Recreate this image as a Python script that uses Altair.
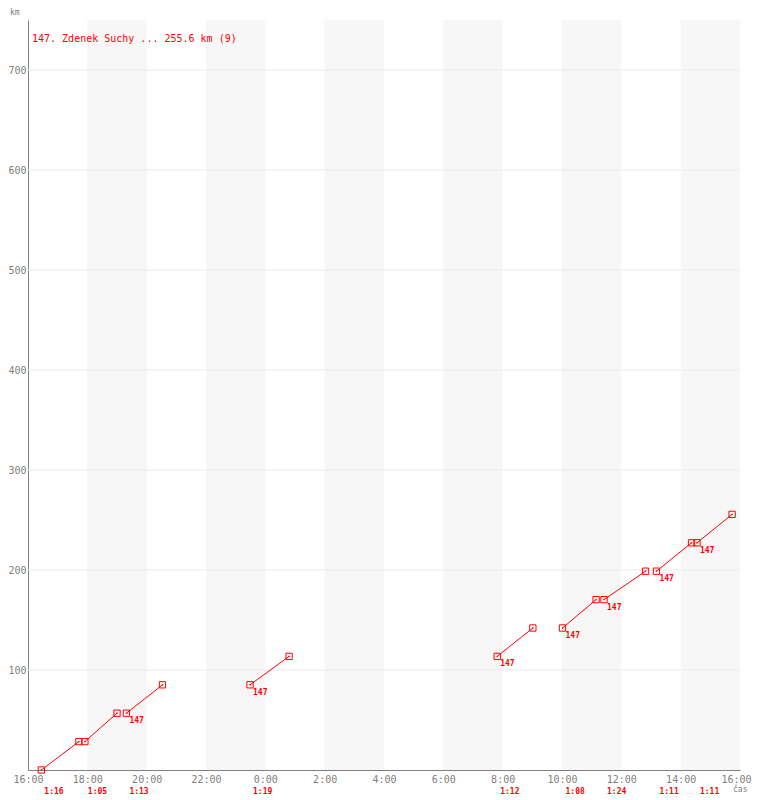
import altair as alt
import pandas as pd

# ---- data ----
start_times = ["16:27", "17:55", "19:19", "23:29", "7:49", "10:01", "11:25", "13:11", "14:33"]
durations = ["1:16", "1:05", "1:13", "1:19", "1:12", "1:08", "1:24", "1:11", "1:11"]
distances = [0, 28.4, 56.8, 85.2, 113.6, 142.0, 170.4, 198.8, 227.2, 255.6]
rider_labels = ["", "", "147", "147", "147", "147", "147", "147", "147"]
band_starts = ["18:00", "22:00", "2:00", "6:00", "10:00", "14:00"]
band_length = "2:00"
x_ticks = list(range(0, 1441, 120))
y_ticks = [100, 200, 300, 400, 500, 600, 700]
legend_text = "147. Zdenek Suchy ... 255.6 km (9)"

RED = "#ff0000"
GRAY = "#808080"
FONT = "DejaVu Sans Mono"


def hm(s):
    h, m = s.split(":")
    return int(h) * 60 + int(m)


def since16(s):
    t = hm(s) - 16 * 60
    return t + 1440 if t < 0 else t


rows, pts, labels = [], [], []
for i, (st, du) in enumerate(zip(start_times, durations)):
    t0 = since16(st)
    t1 = t0 + hm(du)
    rows.append({"seg": i, "t": t0, "km": distances[i]})
    rows.append({"seg": i, "t": t1, "km": distances[i + 1]})
    pts.append({"t": t0, "km": distances[i]})
    pts.append({"t": t1, "km": distances[i + 1]})
    labels.append({"t": t0, "km": distances[i], "rider": rider_labels[i], "dur": du})

lines_df = pd.DataFrame(rows)
pts_df = pd.DataFrame(pts)
lab_df = pd.DataFrame(labels)
bands_df = pd.DataFrame(
    [{"b0": since16(b), "b1": since16(b) + hm(band_length)} for b in band_starts]
)

xscale = alt.Scale(domain=[0, 1440], nice=False, zero=False)
yscale = alt.Scale(domain=[0, 750], nice=False)

bands = alt.Chart(bands_df).mark_rect(color="#f7f7f7").encode(
    x=alt.X("b0:Q", scale=xscale,
            axis=alt.Axis(values=x_ticks, title=None, grid=False, ticks=False,
                          labelExpr="((floor(datum.value/60)+16)%24) + ':00'",
                          labelFont=FONT, labelFontSize=10, labelColor=GRAY,
                          labelPadding=4, labelFlush=False, labelOverlap=False,
                          labelOffset=alt.condition("datum.value == 1440", alt.value(-4), alt.value(0)),
                          domainColor=GRAY, domainWidth=1)),
    x2="b1:Q",
    y=alt.value(0),
    y2=alt.value(750),
)

grid = alt.Chart(pd.DataFrame({"km": y_ticks})).mark_rule(color="#ebebeb", strokeWidth=1).encode(
    y=alt.Y("km:Q", scale=yscale,
            axis=alt.Axis(values=y_ticks, title=None, grid=False, ticks=False,
                          labelFont=FONT, labelFontSize=10, labelColor=GRAY,
                          labelPadding=2, domainColor=GRAY, domainWidth=1)),
)

lines = alt.Chart(lines_df).mark_line(color=RED, strokeWidth=1).encode(
    x=alt.X("t:Q", scale=xscale),
    y=alt.Y("km:Q", scale=yscale),
    detail="seg:N",
)

markers = alt.Chart(pts_df).mark_point(
    shape="square", filled=False, color=RED, size=40, strokeWidth=1, opacity=1
).encode(x=alt.X("t:Q", scale=xscale), y=alt.Y("km:Q", scale=yscale))

dots = alt.Chart(pts_df).mark_point(
    shape="square", filled=True, color=RED, size=2, opacity=1
).encode(x=alt.X("t:Q", scale=xscale), y=alt.Y("km:Q", scale=yscale))

rider_txt = alt.Chart(lab_df).mark_text(
    align="left", baseline="top", dx=3, dy=4, font=FONT, fontSize=8,
    fontWeight="bold", color=RED
).encode(x=alt.X("t:Q", scale=xscale), y=alt.Y("km:Q", scale=yscale), text="rider:N")

dur_txt = alt.Chart(lab_df).mark_text(
    align="left", baseline="middle", dx=3, font=FONT, fontSize=8,
    fontWeight="bold", color=RED
).encode(x=alt.X("t:Q", scale=xscale), y=alt.value(772), text="dur:N")

legend = alt.Chart(pd.DataFrame({"txt": [legend_text]})).mark_text(
    align="left", baseline="alphabetic", font=FONT, fontSize=10, color=RED
).encode(x=alt.value(4), y=alt.value(22), text="txt:N")

km_lbl = alt.Chart(pd.DataFrame({"txt": ["km"]})).mark_text(
    align="left", baseline="top", font=FONT, fontSize=8, color=GRAY
).encode(x=alt.value(-18), y=alt.value(-11), text="txt:N")

cas_lbl = alt.Chart(pd.DataFrame({"txt": ["čas"]})).mark_text(
    align="left", baseline="top", font=FONT, fontSize=8, color=GRAY
).encode(x=alt.value(705), y=alt.value(766), text="txt:N")

chart = alt.layer(
    bands, grid, lines, markers, dots, rider_txt, dur_txt, legend, km_lbl, cas_lbl
).properties(
    width=712,
    height=750,
    padding={"left": 20, "top": 12, "right": 12, "bottom": 28},
    autosize=alt.AutoSizeParams(type="none"),
    background="white",
).configure_view(stroke=None)

chart.save("out.html", embed_options={"renderer": "svg", "actions": False})
